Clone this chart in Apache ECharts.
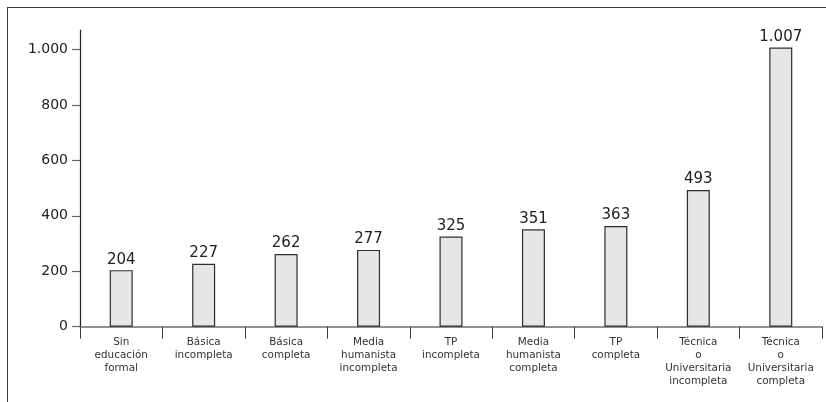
<!DOCTYPE html>
<html>
<head>
<meta charset="utf-8">
<script src="https://cdn.jsdelivr.net/npm/echarts@6/dist/echarts.min.js"></script>
<style>
  html, body { margin: 0; padding: 0; background: #fff; }
  #frame {
    position: absolute; left: 7px; top: 7px; right: 0; bottom: 0;
    border-top: 1.5px solid #3a3a3a; border-left: 1.5px solid #3a3a3a;
  }
  #chart { position: absolute; left: 0; top: 0; width: 826px; height: 402px; }
</style>
</head>
<body>
<div id="frame"></div>
<div id="chart"></div>
<script>
// Education levels (category axis)
var categories = [
  'Sin\neducación\nformal',
  'Básica\nincompleta',
  'Básica\ncompleta',
  'Media\nhumanista\nincompleta',
  'TP\nincompleta',
  'Media\nhumanista\ncompleta',
  'TP\ncompleta',
  'Técnica\no\nUniversitaria\nincompleta',
  'Técnica\no\nUniversitaria\ncompleta'
];
// Value per education level
var values = [204, 227, 262, 277, 325, 351, 363, 493, 1007];
// Labelled ticks on the value axis
var yTicks = [0, 200, 400, 600, 800, 1000];

function fmt(v) {
  return String(v).replace(/\B(?=(\d{3})+(?!\d))/g, '.');
}

var chart = echarts.init(document.getElementById('chart'), null, { renderer: 'canvas' });
chart.setOption({
  animation: false,
  grid: { left: 80, right: 4, top: 30, bottom: 75.3 },
  xAxis: {
    type: 'category',
    data: categories,
    axisLine: { lineStyle: { color: '#6e6e6e', width: 1.5 } },
    axisTick: { show: true, alignWithLabel: false, length: 12, lineStyle: { color: '#3a3a3a', width: 1 } },
    axisLabel: {
      interval: 0, margin: 9, color: '#333', fontFamily: 'DejaVu Sans',
      fontSize: 10.4, lineHeight: 13, align: 'center'
    }
  },
  yAxis: {
    type: 'value',
    min: 0, max: 1070,
    splitLine: { show: false },
    axisLine: { show: true, lineStyle: { color: '#222', width: 1.2 } },
    axisTick: { show: true, length: 8, customValues: yTicks, lineStyle: { color: '#666', width: 1.2 } },
    axisLabel: {
      customValues: yTicks, margin: 12, color: '#222', fontFamily: 'DejaVu Sans', fontSize: 14,
      formatter: function (v) { return fmt(v); }
    }
  },
  series: [{
    type: 'bar',
    data: values,
    barWidth: 23,
    itemStyle: { color: '#e6e6e6', borderColor: '#2e2e2e', borderWidth: 1.2 },
    label: {
      show: true, position: 'top', distance: 3, color: '#222',
      fontFamily: 'DejaVu Sans', fontSize: 15,
      formatter: function (p) { return fmt(p.value); }
    }
  }]
});
</script>
</body>
</html>
